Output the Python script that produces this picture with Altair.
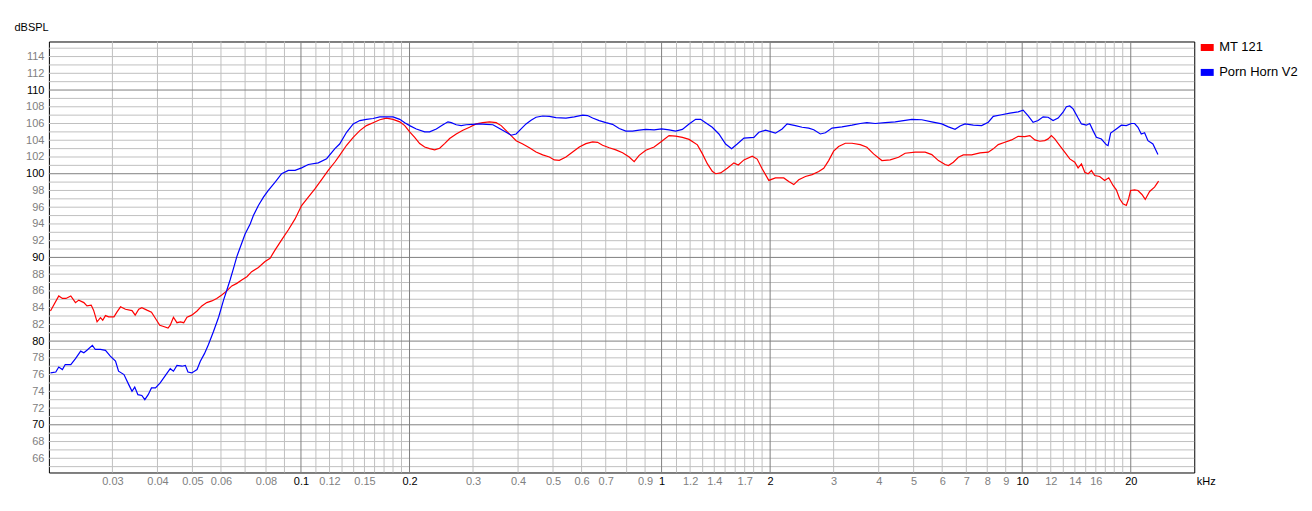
import json
import altair as alt
import pandas as pd

# ---- data (kHz, dBSPL) ----
red_f = [0.0202, 0.0213, 0.0218, 0.0223, 0.0230, 0.0237, 0.0242, 0.0250, 0.0255, 0.0262,
         0.0266, 0.0272, 0.0278, 0.0282, 0.0287, 0.0293, 0.0303, 0.0309, 0.0316, 0.0326,
         0.0340, 0.0347, 0.0355, 0.0362, 0.0374, 0.0385, 0.0395, 0.0406, 0.0416, 0.0428,
         0.0434, 0.0443, 0.0453, 0.0463, 0.0473, 0.0483, 0.0498, 0.0515, 0.0531, 0.0548,
         0.0566, 0.0584, 0.0603, 0.0623, 0.0643, 0.0664, 0.0685, 0.0708, 0.0730, 0.0762,
         0.0795, 0.0821, 0.0848, 0.0884, 0.0923, 0.0963, 0.1004, 0.1048, 0.1093, 0.1141,
         0.1190, 0.1242, 0.128, 0.1338, 0.1396, 0.1456, 0.1519, 0.1585, 0.1654, 0.1726,
         0.1800, 0.1879, 0.1940, 0.2002, 0.2067, 0.2134, 0.2203, 0.2274, 0.2348, 0.2424,
         0.2502, 0.2584, 0.2695, 0.2812, 0.2934, 0.3061, 0.3194, 0.3333, 0.3477, 0.3591,
         0.3707, 0.3826, 0.3951, 0.4121, 0.4300, 0.4486, 0.4681, 0.4884, 0.5042, 0.5205,
         0.5431, 0.5667, 0.5914, 0.6169, 0.6438, 0.6645, 0.6861, 0.7159, 0.7469, 0.7795,
         0.8132, 0.8395, 0.8666, 0.9042, 0.9535, 0.9948, 1.049, 1.094, 1.142, 1.192,
         1.257, 1.297, 1.339, 1.382, 1.412, 1.458, 1.521, 1.587, 1.632, 1.692,
         1.784, 1.841, 1.900, 1.983, 2.069, 2.182, 2.252, 2.326, 2.401, 2.505,
         2.615, 2.728, 2.816, 2.906, 3.000, 3.097, 3.232, 3.373, 3.556, 3.710,
         3.871, 4.082, 4.305, 4.540, 4.736, 5.048, 5.381, 5.614, 5.858, 6.112,
         6.243, 6.444, 6.653, 6.867, 7.243, 7.637, 8.053, 8.314, 8.582, 8.954,
         9.344, 9.748, 10.17, 10.50, 10.84, 11.19, 11.55, 11.80, 12.05, 12.31,
         12.71, 13.12, 13.55, 13.99, 14.29, 14.60, 14.91, 15.23, 15.56, 15.89,
         16.40, 16.93, 17.38, 17.86, 18.24, 18.63, 19.03, 19.44, 19.73, 19.98,
         20.50, 20.94, 21.48, 21.94, 22.56, 23.28, 23.89]
red_db = [83.6, 85.4, 85.1, 85.1, 85.4, 84.6, 84.9, 84.6, 84.2, 84.3,
          83.7, 82.3, 82.8, 82.5, 83.05, 82.9, 82.9, 83.5, 84.1, 83.8,
          83.65, 83.1, 83.8, 84.0, 83.7, 83.45, 82.7, 81.9, 81.75, 81.55,
          81.9, 82.85, 82.2, 82.3, 82.2, 82.85, 83.1, 83.6, 84.2, 84.6,
          84.8, 85.1, 85.5, 86.0, 86.6, 86.9, 87.3, 87.7, 88.3, 88.8,
          89.5, 89.9, 90.9, 92.1, 93.3, 94.6, 96.2, 97.2, 98.2, 99.3,
          100.4, 101.4, 102.2, 103.4, 104.35, 105.15, 105.75, 106.1, 106.45, 106.65,
          106.5, 106.2, 105.75, 105.0, 104.35, 103.6, 103.2, 103.0, 102.85, 103.05,
          103.6, 104.2, 104.75, 105.2, 105.55, 105.95, 106.1, 106.2, 106.1, 105.75,
          105.15, 104.55, 103.95, 103.55, 103.1, 102.6, 102.25, 102.0, 101.65, 101.6,
          102.0, 102.6, 103.2, 103.6, 103.8, 103.75, 103.4, 103.1, 102.85, 102.5,
          102.0, 101.45, 102.2, 102.8, 103.2, 103.8, 104.55, 104.5, 104.35, 104.1,
          103.45, 102.4, 101.2, 100.3, 100.0, 100.1, 100.65, 101.3, 101.05, 101.65,
          102.1, 101.75, 100.6, 99.2, 99.5, 99.5, 99.07, 98.7, 99.27, 99.67,
          99.9, 100.26, 100.66, 101.57, 102.7, 103.25, 103.64, 103.64, 103.48, 103.16,
          102.37, 101.57, 101.65, 101.97, 102.45, 102.57, 102.57, 102.29, 101.57, 101.1,
          100.98, 101.37, 101.97, 102.25, 102.25, 102.49, 102.57, 102.97, 103.48, 103.76,
          104.04, 104.47, 104.43, 104.55, 104.04, 103.88, 103.96, 104.16, 104.55, 104.16,
          103.36, 102.57, 101.77, 101.37, 100.7, 101.17, 100.18, 99.98, 100.38, 99.79,
          99.67, 99.19, 99.51, 98.6, 98.08, 97.01, 96.41, 96.21, 97.01, 98.0,
          98.08, 98.0, 97.52, 96.93, 97.88, 98.4, 99.11]

blue_f = [0.0202, 0.0209, 0.0213, 0.0218, 0.0222, 0.0230, 0.0237, 0.0245, 0.0250, 0.0255,
          0.0264, 0.0269, 0.0278, 0.0287, 0.0296, 0.0306, 0.0312, 0.0323, 0.0333, 0.0340,
          0.0346, 0.0353, 0.0362, 0.0369, 0.0377, 0.0385, 0.0395, 0.0407, 0.0421, 0.0434,
          0.0443, 0.0453, 0.0468, 0.0478, 0.0486, 0.0498, 0.0515, 0.0526, 0.0540, 0.0554,
          0.0572, 0.0591, 0.0610, 0.0623, 0.0636, 0.0650, 0.0664, 0.0685, 0.0700, 0.0723,
          0.0738, 0.0762, 0.0787, 0.0812, 0.0848, 0.0884, 0.0923, 0.0963, 0.1004, 0.1048,
          0.1117, 0.1178, 0.1242, 0.128, 0.1338, 0.1396, 0.1456, 0.1519, 0.1585, 0.1654,
          0.1800, 0.1879, 0.1940, 0.2002, 0.2089, 0.2203, 0.2274, 0.2373, 0.2476, 0.2556,
          0.2611, 0.2695, 0.2782, 0.2872, 0.2998, 0.3128, 0.3263, 0.3406, 0.3553, 0.3707,
          0.3826, 0.3951, 0.4078, 0.4209, 0.4346, 0.4486, 0.4681, 0.4884, 0.5096, 0.5431,
          0.5727, 0.6040, 0.6233, 0.6438, 0.6716, 0.7008, 0.7311, 0.7630, 0.7961, 0.8307,
          0.8666, 0.9042, 0.9535, 1.0, 1.049, 1.094, 1.142, 1.192, 1.243, 1.283,
          1.325, 1.382, 1.442, 1.505, 1.564, 1.621, 1.692, 1.803, 1.861, 1.942,
          2.069, 2.159, 2.229, 2.350, 2.453, 2.559, 2.642, 2.756, 2.846, 2.969,
          3.163, 3.373, 3.556, 3.710, 3.912, 4.171, 4.445, 4.687, 4.943, 5.266,
          5.614, 5.983, 6.243, 6.513, 6.725, 6.942, 7.320, 7.718, 8.053, 8.314,
          8.767, 9.246, 9.748, 10.06, 10.39, 10.72, 11.07, 11.43, 11.80, 12.18,
          12.58, 12.98, 13.26, 13.55, 13.84, 14.29, 14.60, 15.07, 15.39, 15.72,
          16.06, 16.58, 17.12, 17.30, 17.59, 18.24, 18.83, 19.44, 20.07, 20.50,
          20.94, 21.39, 21.85, 22.32, 23.04, 23.79]
blue_db = [76.2, 76.3, 76.9, 76.6, 77.2, 77.2, 77.9, 78.8, 78.6, 78.9,
           79.5, 79.0, 79.0, 78.9, 78.2, 77.6, 76.4, 76.0, 74.8, 74.0,
           74.5, 73.6, 73.5, 73.0, 73.6, 74.4, 74.4, 75.0, 75.9, 76.7,
           76.4, 77.1, 77.0, 77.1, 76.3, 76.2, 76.6, 77.6, 78.5, 79.6,
           81.15, 82.85, 84.9, 86.1, 87.3, 88.7, 90.1, 91.7, 92.8, 94.0,
           95.0, 96.2, 97.2, 98.0, 99.0, 100.0, 100.4, 100.4, 100.7, 101.1,
           101.3, 101.8, 103.0, 103.55, 104.95, 105.95, 106.35, 106.5, 106.6, 106.8,
           106.8, 106.5, 106.1, 105.75, 105.35, 105.0, 105.0, 105.35, 105.85, 106.2,
           106.1, 105.85, 105.75, 105.85, 105.9, 105.95, 105.9, 105.85, 105.4, 104.95,
           104.6, 104.75, 105.35, 105.95, 106.4, 106.75, 106.9, 106.85, 106.7, 106.65,
           106.8, 107.0, 106.95, 106.65, 106.35, 106.1, 105.9, 105.4, 105.1, 105.1,
           105.2, 105.3, 105.25, 105.35, 105.25, 105.1, 105.3, 105.95, 106.5, 106.5,
           106.1, 105.55, 104.75, 103.55, 103.0, 103.55, 104.25, 104.35, 104.95, 105.2,
           104.85, 105.35, 105.95, 105.75, 105.55, 105.45, 105.25, 104.75, 104.9, 105.45,
           105.6, 105.8, 106.0, 106.1, 106.0, 106.1, 106.2, 106.35, 106.5, 106.45,
           106.2, 105.95, 105.6, 105.3, 105.7, 105.95, 105.8, 105.75, 106.15, 106.85,
           107.05, 107.25, 107.4, 107.6, 106.9, 106.15, 106.35, 106.8, 106.75, 106.35,
           106.65, 107.35, 108.0, 108.1, 107.75, 106.65, 105.95, 105.8, 106.0, 105.15,
           104.35, 104.15, 103.45, 103.35, 104.85, 105.35, 105.8, 105.75, 106.0, 106.0,
           105.55, 104.75, 104.9, 103.95, 103.55, 102.3]

series_names = ["MT 121", "Porn Horn V2"]
series_colors = ["#ff0000", "#0000ff"]

x_labels = [0.03, 0.04, 0.05, 0.06, 0.08, 0.1, 0.12, 0.15, 0.2, 0.3, 0.4, 0.5, 0.6, 0.7,
            0.9, 1, 1.2, 1.4, 1.7, 2, 3, 4, 5, 6, 7, 8, 9, 10, 12, 14, 16, 20]
x_major = [0.1, 0.2, 1, 2, 10, 20]
x_minor = [0.03, 0.04, 0.05, 0.06, 0.07, 0.08, 0.09,
           0.11, 0.12, 0.13, 0.14, 0.15, 0.16, 0.17, 0.18, 0.19,
           0.3, 0.4, 0.5, 0.6, 0.7, 0.8, 0.9,
           1.1, 1.2, 1.3, 1.4, 1.5, 1.6, 1.7, 1.8, 1.9,
           3, 4, 5, 6, 7, 8, 9,
           11, 12, 13, 14, 15, 16, 17, 18, 19]
y_labels = [66, 68, 70, 72, 74, 76, 78, 80, 82, 84, 86, 88, 90, 92, 94, 96, 98, 100,
            102, 104, 106, 108, 110, 112, 114]
y_major = [70, 80, 90, 100, 110]
y_minor = [v for v in range(65, 116) if v not in y_major]

# ---- build tables ----
lines_df = pd.concat([
    pd.DataFrame({"f": red_f, "db": red_db, "series": series_names[0]}),
    pd.DataFrame({"f": blue_f, "db": blue_db, "series": series_names[1]}),
])

xscale = alt.Scale(type="log", domain=[0.02, 30], nice=False)
yscale = alt.Scale(domain=[64.3, 115.8], nice=False, zero=False)

FONT = "Liberation Sans"


def color_cond(majors):
    return {"condition": {"test": "indexof(" + json.dumps(majors) + ", datum.value) >= 0",
                          "value": "#000000"},
            "value": "#808080"}


x_axis = alt.Axis(
    values=x_labels, format="~g", grid=False, ticks=False, tickSize=0, domain=False,
    labelFont=FONT, labelFontSize=11, labelColor=color_cond(x_major), labelPadding=3,
    labelFlush=False, labelOverlap=False, labelBound=False,
    title="kHz", titleX=1150, titleY=9, titleAlign="left", titleBaseline="middle",
    titleFont=FONT, titleFontSize=11, titleFontWeight="normal", titleColor="#000000",
    titleAngle=0)
y_axis = alt.Axis(
    values=y_labels, grid=False, ticks=False, tickSize=0, domain=False,
    labelFont=FONT, labelFontSize=11, labelColor=color_cond(y_major), labelPadding=5,
    labelOverlap=False, labelBound=False,
    title="dBSPL", titleX=-35, titleY=-14, titleAngle=0, titleAlign="left",
    titleBaseline="middle", titleFont=FONT, titleFontSize=11, titleFontWeight="normal",
    titleColor="#000000")

X = alt.X("f:Q", scale=xscale, axis=x_axis)
Y = alt.Y("db:Q", scale=yscale, axis=y_axis)

gx_minor = alt.Chart(pd.DataFrame({"f": x_minor})).mark_rule(
    color="#c0c0c0", strokeWidth=1).encode(x=X)
gy_minor = alt.Chart(pd.DataFrame({"db": y_minor})).mark_rule(
    color="#c0c0c0", strokeWidth=1).encode(y=Y)
gx_major = alt.Chart(pd.DataFrame({"f": x_major})).mark_rule(
    color="#808080", strokeWidth=1).encode(x=X)
gy_major = alt.Chart(pd.DataFrame({"db": y_major})).mark_rule(
    color="#808080", strokeWidth=1).encode(y=Y)

lines = alt.Chart(lines_df).mark_line(strokeWidth=1.2, clip=True).encode(
    x=X,
    y=Y,
    color=alt.Color("series:N",
                    scale=alt.Scale(domain=series_names, range=series_colors),
                    legend=alt.Legend(title=None, orient="none", legendX=1151, legendY=-4,
                                      symbolType="stroke", symbolSize=169,
                                      symbolStrokeWidth=7, labelFont=FONT,
                                      labelFontSize=13, labelColor="#000000",
                                      labelOffset=2, rowPadding=-3, padding=0)),
    detail="series:N",
)

chart = alt.layer(gx_minor, gy_minor, gx_major, gy_major, lines).properties(
    width=1148, height=432,
    autosize=alt.AutoSizeParams(type="none"),
    padding={"left": 41, "top": 33, "right": 110, "bottom": 30},
    background="#ffffff",
).configure_view(stroke="#000000", strokeWidth=1)

chart.save("out.html", embed_options={"renderer": "svg", "actions": False})
